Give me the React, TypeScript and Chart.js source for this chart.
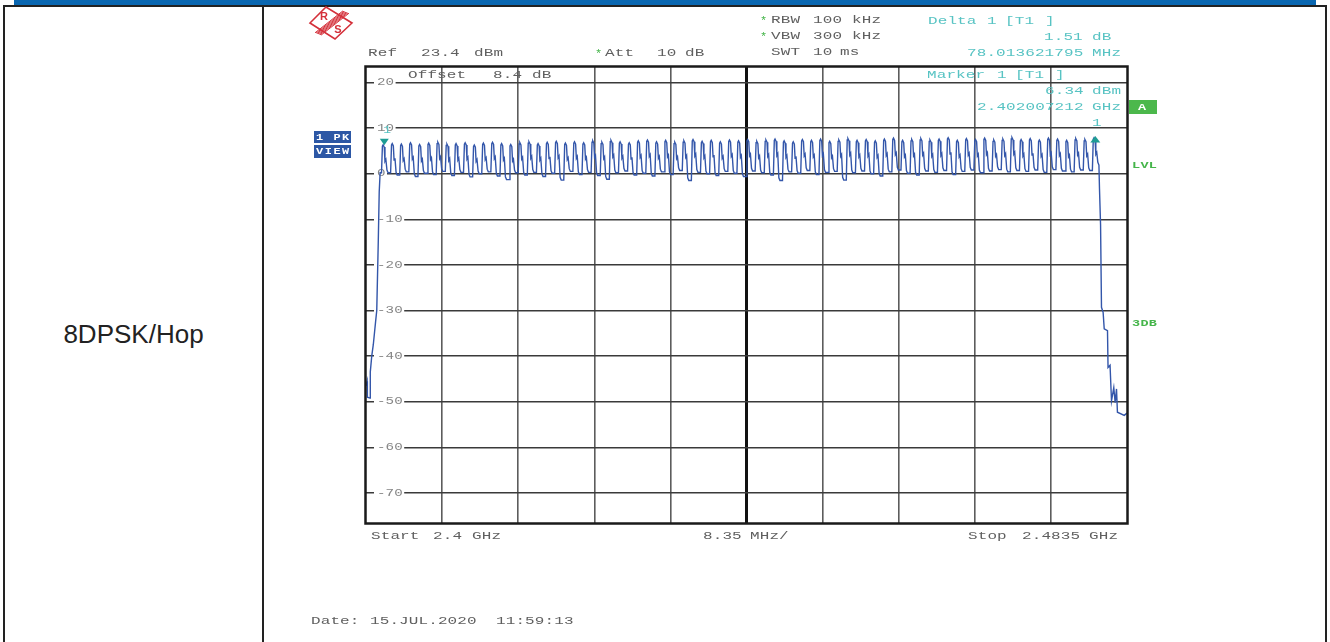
import React, { useEffect, useRef } from "react";
import { Chart, registerables } from "chart.js";

Chart.register(...registerables);

// ---------- data ----------
const channelMHz = [
  2402, 2403, 2404, 2405, 2406, 2407, 2408, 2409, 2410, 2411,
  2412, 2413, 2414, 2415, 2416, 2417, 2418, 2419, 2420, 2421,
  2422, 2423, 2424, 2425, 2426, 2427, 2428, 2429, 2430, 2431,
  2432, 2433, 2434, 2435, 2436, 2437, 2438, 2439, 2440, 2441,
  2442, 2443, 2444, 2445, 2446, 2447, 2448, 2449, 2450, 2451,
  2452, 2453, 2454, 2455, 2456, 2457, 2458, 2459, 2460, 2461,
  2462, 2463, 2464, 2465, 2466, 2467, 2468, 2469, 2470, 2471,
  2472, 2473, 2474, 2475, 2476, 2477, 2478, 2479, 2480,
];
const peakDbm = [
  6.34, 6.6, 6.5, 6.8, 6.4, 6.7, 6.9, 6.5, 6.6, 6.8,
  6.3, 6.7, 6.9, 6.6, 6.4, 6.8, 7.0, 6.6, 6.9, 7.1,
  6.7, 7.0, 6.8, 7.2, 6.9, 7.3, 7.0, 6.8, 7.2, 7.4,
  7.0, 7.3, 6.9, 7.2, 7.5, 7.1, 7.3, 7.0, 7.4, 7.2,
  7.5, 7.1, 7.4, 7.6, 7.2, 7.0, 7.5, 7.3, 7.6, 7.1,
  7.4, 7.7, 7.3, 7.5, 7.2, 7.6, 7.8, 7.3, 7.5, 7.7,
  7.4, 7.6, 7.9, 7.3, 7.7, 7.5, 7.8, 7.4, 7.6, 7.9,
  7.5, 7.7, 7.4, 7.8, 7.6, 7.3, 7.7, 7.5, 7.85,
];
const dipDbm = [
  0.2, -0.3, 0.4, -0.6, 0.1, -0.2, 0.5, -0.4, 0.3, -0.7,
  0.0, 0.4, -0.5, -1.3, 0.2, -0.3, 0.3, -0.6, 0.1, -1.4,
  0.5, -0.2, 0.3, -0.4, -1.2, 0.2, 0.6, -0.3, 0.1, -0.5,
  0.4, -0.2, 0.7, -1.5, 0.3, 0.0, -0.4, 0.5, 0.1, -0.6,
  0.6, 0.2, -0.3, -1.5, 0.4, 0.1, 0.7, -0.2, 0.3, 0.5,
  -1.4, 0.2, 0.6, 0.0, -0.5, 0.4, 0.8, 0.1, -0.3, 0.6,
  0.3, 0.7, -0.2, 0.5, 0.8, 0.2, 0.6, 0.9, 0.4, 0.7,
  0.5, 0.8, 0.3, 0.9, 0.6, 0.4, 0.8, 0.7, 1.9,
];
const leftEdgeMHz = [2400.0, 2400.12, 2400.15, 2400.45, 2400.47, 2400.63, 2400.8, 2401.05, 2401.18, 2401.35, 2401.45, 2401.55];
const leftEdgeDbm = [-46.5, -45.5, -49.0, -49.2, -43.5, -40.0, -37.5, -32.5, -30.0, -14.6, -4.0, 0.2];
const rightEdgeMHz = [2480.48, 2480.6, 2480.7, 2480.88, 2481.0, 2481.36, 2481.42, 2481.64, 2481.8, 2482.05, 2482.2, 2482.35, 2482.45, 2483.2, 2483.5];
const rightEdgeDbm = [-3.2, -11.3, -29.3, -30.4, -34.0, -34.4, -42.5, -42.0, -49.8, -46.9, -50.2, -47.2, -52.3, -53.0, -52.5];

const xGridMHz = [2408.35, 2416.7, 2425.05, 2433.4, 2441.75, 2450.1, 2458.45, 2466.8, 2475.15];
const xCenterMHz = 2441.75;
const yTicks = [20, 10, 0, -10, -20, -30, -40, -50, -60, -70];
const yTickLabels = ["20", "10", "0", "-10", "-20", "-30", "-40", "-50", "-60", "-70"];
const freqStartMHz = 2400;
const freqStopMHz = 2483.5;
const refLevel = 23.4;
const bottomLevel = -76.6;

const marker1 = { f: 2402.007212, level: 6.34 };
const delta1 = { f: 2480.020834, level: 7.85 };

// ---------- drawing helpers ----------
function mono(ctx: CanvasRenderingContext2D, text: string, x: number, y: number, color: string, size = 11, adv = 9.7, sx = 1.45, weight = "normal") {
  ctx.save();
  ctx.fillStyle = color;
  ctx.font = `${weight} ${size}px "Liberation Mono", monospace`;
  ctx.textBaseline = "middle";
  ctx.textAlign = "left";
  for (let i = 0; i < text.length; i++) {
    ctx.save();
    ctx.translate(x + i * adv, y);
    ctx.scale(sx, 1);
    ctx.fillText(text[i], 0, 0);
    ctx.restore();
  }
  ctx.restore();
}

const GRAY = "#5f5f5f";
const CYAN = "#57c3c3";
const GREEN = "#45b54a";

const outsideText: [string, number, number, string][] = [
  ["Ref", 368, 53, GRAY], ["23.4", 421, 53, GRAY], ["dBm", 474, 53, GRAY],
  ["Att", 605, 53, GRAY], ["10", 657, 53, GRAY], ["dB", 685, 53, GRAY],
  ["RBW", 771, 20, GRAY], ["100", 813, 20, GRAY], ["kHz", 852, 20, GRAY],
  ["VBW", 771, 36, GRAY], ["300", 813, 36, GRAY], ["kHz", 852, 36, GRAY],
  ["SWT", 771, 52, GRAY], ["10", 813, 52, GRAY], ["ms", 840, 52, GRAY],
  ["Start", 371, 536, GRAY], ["2.4", 433, 536, GRAY], ["GHz", 472, 536, GRAY],
  ["8.35", 703, 536, GRAY], ["MHz/", 750, 536, GRAY],
  ["Stop", 968, 536, GRAY], ["2.4835", 1022, 536, GRAY], ["GHz", 1089, 536, GRAY],
  ["Date:", 311, 621, GRAY], ["15.JUL.2020", 370, 621, GRAY], ["11:59:13", 496, 621, GRAY],
  ["Delta", 928, 21, CYAN], ["1", 987, 21, CYAN], ["[T1", 1005, 21, CYAN], ["]", 1045, 21, CYAN],
  ["1.51", 1044, 37, CYAN], ["dB", 1092, 37, CYAN],
  ["78.013621795", 967, 53, CYAN], ["MHz", 1092, 53, CYAN],
];
const insideText: [string, number, number, string][] = [
  ["Offset", 408, 75, GRAY], ["8.4", 493, 75, GRAY], ["dB", 532, 75, GRAY],
  ["Marker", 927, 75, CYAN], ["1", 997, 75, CYAN], ["[T1", 1015, 75, CYAN], ["]", 1055, 75, CYAN],
  ["6.34", 1045, 91, CYAN], ["dBm", 1092, 91, CYAN],
  ["2.402007212", 977, 107, CYAN], ["GHz", 1092, 107, CYAN],
  ["1", 1092, 123, CYAN],
];

function buildTrace() {
  const pts: { x: number; y: number }[] = [];
  leftEdgeMHz.forEach((f, i) => pts.push({ x: f, y: leftEdgeDbm[i] }));
  channelMHz.forEach((f, i) => {
    const prevDip = i === 0 ? leftEdgeDbm[leftEdgeDbm.length - 1] : dipDbm[i - 1];
    const pk = peakDbm[i];
    pts.push({ x: f - 0.3, y: prevDip });
    pts.push({ x: f - 0.2, y: pk - 0.3 });
    pts.push({ x: f - 0.12, y: pk });
    pts.push({ x: f + 0.0, y: pk - 0.5 });
    pts.push({ x: f + 0.08, y: pk - 3.6 });
    pts.push({ x: f + 0.18, y: pk - 3.2 });
    pts.push({ x: f + 0.3, y: dipDbm[i] + 0.6 });
    pts.push({ x: f + 0.42, y: dipDbm[i] });
  });
  rightEdgeMHz.forEach((f, i) => pts.push({ x: f, y: rightEdgeDbm[i] }));
  return pts;
}

const overlayPlugin = {
  id: "rsOverlay",
  beforeDatasetsDraw(chart: any) {
    const ctx = chart.ctx as CanvasRenderingContext2D;
    const y = chart.scales.y;
    yTicks.forEach((v, i) => {
      const py = y.getPixelForValue(v);
      const label = yTickLabels[i];
      const w = (label.length - 1) * 8.6 + 8;
      ctx.fillStyle = "#fff";
      ctx.fillRect(374, py - 4, w + 5, 8);
      mono(ctx, label, 377, py, "#858585", 10.5, 8.6, 1.35);
    });
    insideText.forEach(([t, x, yy, c]) => mono(ctx, t, x, yy, c));
  },
  afterDatasetsDraw(chart: any) {
    const ctx = chart.ctx as CanvasRenderingContext2D;
    const a = chart.chartArea;
    const xs = chart.scales.x;
    const ys = chart.scales.y;
    // frame
    ctx.save();
    ctx.strokeStyle = "#1a1a1a";
    ctx.lineWidth = 2.5;
    ctx.strokeRect(a.left - 0.5, a.top - 0.5, a.right - a.left + 1, a.bottom - a.top + 1);
    ctx.restore();
    // marker 1 (down triangle)
    const m1x = xs.getPixelForValue(marker1.f);
    const m1y = ys.getPixelForValue(marker1.level);
    ctx.save();
    ctx.fillStyle = "#1e9c94";
    ctx.beginPath();
    ctx.moveTo(m1x - 4.5, m1y - 6);
    ctx.lineTo(m1x + 4.5, m1y - 6);
    ctx.lineTo(m1x, m1y + 0.5);
    ctx.closePath();
    ctx.fill();
    // delta marker (up triangle)
    const d1x = xs.getPixelForValue(delta1.f);
    const d1y = ys.getPixelForValue(delta1.level);
    ctx.beginPath();
    ctx.moveTo(d1x - 5, d1y + 4.5);
    ctx.lineTo(d1x + 5, d1y + 4.5);
    ctx.lineTo(d1x, d1y - 2);
    ctx.closePath();
    ctx.fill();
    ctx.restore();
    mono(ctx, "1", m1x - 1, m1y - 14, CYAN, 10, 8, 1.3);
  },
  afterDraw(chart: any) {
    const ctx = chart.ctx as CanvasRenderingContext2D;
    outsideText.forEach(([t, x, yy, c]) => mono(ctx, t, x, yy, c));
    // green asterisks
    [[760, 20], [760, 36], [595, 53]].forEach(([x, yy]) => mono(ctx, "*", x, yy + 1, GREEN, 10, 8, 1.2));
    // LVL / 3DB
    mono(ctx, "LVL", 1132, 166, GREEN, 9, 8.4, 1.5, "bold");
    mono(ctx, "3DB", 1132, 324, GREEN, 9, 8.4, 1.5, "bold");
    // A box
    ctx.fillStyle = "#4cb84c";
    ctx.fillRect(1129, 100, 28, 14);
    mono(ctx, "A", 1138, 107.5, "#ffffff", 9, 8, 1.5, "bold");
    // 1 PK / VIEW boxes
    ctx.fillStyle = "#2c57a5";
    ctx.fillRect(314, 131, 37, 12);
    ctx.fillRect(314, 145, 37, 13);
    mono(ctx, "1 PK", 316, 137.5, "#ffffff", 8.5, 8.7, 1.4, "bold");
    mono(ctx, "VIEW", 316, 151.5, "#ffffff", 8.5, 8.7, 1.4, "bold");
    // R&S logo
    ctx.save();
    ctx.strokeStyle = "#d4303a";
    ctx.fillStyle = "#d4303a";
    ctx.lineWidth = 1.6;
    ctx.beginPath();
    ctx.moveTo(310, 23);
    ctx.lineTo(326, 7);
    ctx.lineTo(352, 23);
    ctx.lineTo(335, 39);
    ctx.closePath();
    ctx.stroke();
    ctx.lineWidth = 1;
    for (let k = -3; k <= 3; k++) {
      ctx.beginPath();
      ctx.moveTo(318 + k, 34 + k * 0.4);
      ctx.lineTo(346 + k, 12 + k * 0.4);
      ctx.stroke();
    }
    ctx.font = 'bold 11px "Liberation Sans", sans-serif';
    ctx.textBaseline = "middle";
    ctx.textAlign = "center";
    ctx.fillText("R", 324, 17);
    ctx.fillText("S", 338, 30);
    ctx.restore();
  },
};

export default function App() {
  const ref = useRef<HTMLCanvasElement | null>(null);
  useEffect(() => {
    if (!ref.current) return;
    const chart = new Chart(ref.current, {
      type: "line",
      data: {
        datasets: [
          {
            data: buildTrace(),
            borderColor: "#3356aa",
            borderWidth: 1.4,
            pointRadius: 0,
            tension: 0,
            fill: false,
          },
        ],
      },
      options: {
        animation: false,
        responsive: false,
        maintainAspectRatio: false,
        parsing: false,
        layout: { padding: { left: 366, top: 67, right: 1330 - 1127, bottom: 642 - 523 } },
        plugins: { legend: { display: false }, tooltip: { enabled: false } },
        scales: {
          x: {
            type: "linear",
            min: freqStartMHz,
            max: freqStopMHz,
            afterBuildTicks: (s: any) => {
              s.ticks = xGridMHz.map((v) => ({ value: v }));
            },
            ticks: { display: false },
            grid: {
              drawTicks: false,
              color: (c: any) => (c.tick && Math.abs(c.tick.value - xCenterMHz) < 0.01 ? "#111" : "#5c5c5c"),
              lineWidth: (c: any) => (c.tick && Math.abs(c.tick.value - xCenterMHz) < 0.01 ? 3 : 1.6),
            },
            border: { display: false },
          },
          y: {
            type: "linear",
            min: bottomLevel,
            max: refLevel,
            afterBuildTicks: (s: any) => {
              s.ticks = yTicks.map((v) => ({ value: v }));
            },
            ticks: { display: false },
            grid: { drawTicks: false, color: "#3a3a3a", lineWidth: 1.6 },
            border: { display: false },
          },
        },
      },
      plugins: [overlayPlugin],
    } as any);
    return () => chart.destroy();
  }, []);

  return (
    <div style={{ position: "fixed", left: 0, top: 0, width: 1330, height: 642, background: "#fff", overflow: "hidden" }}>
      <div style={{ position: "absolute", left: 14, top: 0, width: 1302, height: 5, background: "#0a67b1" }} />
      <div style={{ position: "absolute", left: 3, top: 5, width: 1324, height: 2, background: "#222" }} />
      <div style={{ position: "absolute", left: 3, top: 5, width: 2, height: 637, background: "#222" }} />
      <div style={{ position: "absolute", left: 262, top: 5, width: 2, height: 637, background: "#222" }} />
      <div style={{ position: "absolute", left: 1325, top: 5, width: 2, height: 637, background: "#222" }} />
      <div
        style={{
          position: "absolute",
          left: 5,
          width: 257,
          top: 319,
          textAlign: "center",
          font: '26px "Liberation Sans", Arial, sans-serif',
          lineHeight: "30px",
          color: "#222",
        }}
      >
        8DPSK/Hop
      </div>
      <canvas ref={ref} width={1330} height={642} style={{ position: "absolute", left: 0, top: 0 }} />
    </div>
  );
}
